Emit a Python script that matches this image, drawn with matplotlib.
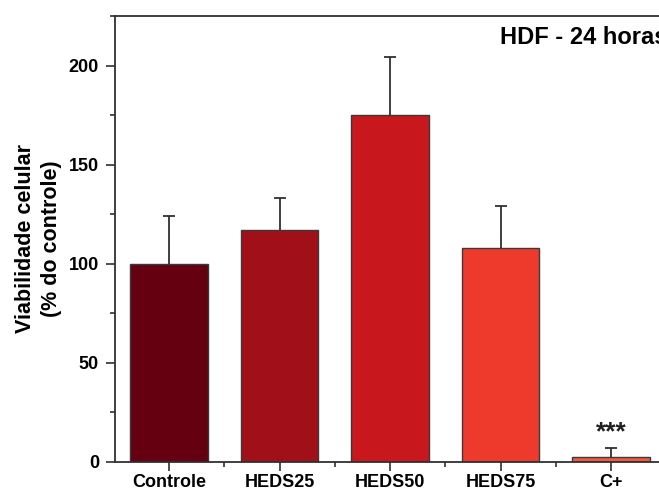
import matplotlib
matplotlib.use("Agg")
import matplotlib.pyplot as plt
from matplotlib.ticker import MultipleLocator, FixedLocator

plt.rcParams['font.family'] = ['Liberation Sans', 'DejaVu Sans']
plt.rcParams['font.weight'] = 'bold'

categories = ["Controle", "HEDS25", "HEDS50", "HEDS75", "C+"]
viability = [100.0, 117.0, 175.0, 108.0, 2.7]
sem_upper = [24.2, 16.2, 29.4, 21.1, 4.5]
bar_colors = ["#640010", "#A11018", "#C8171D", "#EE3A2D", "#F05A40"]
significance = ["", "", "", "", "***"]

fig = plt.figure(figsize=(6.59, 4.92), dpi=100)
ax = fig.add_axes([0.1745, 0.061, 0.8255, 0.9065])

x = list(range(len(categories)))
ax.bar(x, viability, width=0.705, color=bar_colors, edgecolor="#3a3a3a",
       linewidth=1.0, zorder=2)
eb = ax.errorbar(x, viability, yerr=[[0] * len(x), sem_upper], fmt="none",
                 ecolor="#303030", elinewidth=1.3, capsize=4, capthick=1.3,
                 zorder=3)
# only the upper whisker gets a cap
eb[1][0].set_visible(False)

for xi, v, e, s in zip(x, viability, sem_upper, significance):
    if s:
        ax.text(xi, v + e + 8.0, s, ha="center", va="center", fontsize=19,
                fontweight="bold", color="#202020")

ax.set_xlim(-0.489, 4.434)
ax.set_ylim(0, 225)
ax.set_xticks(x)
ax.set_xticklabels(categories, fontsize=13, fontweight="bold")
ax.xaxis.set_minor_locator(FixedLocator([i + 0.5 for i in range(-1, len(x))]))
ax.yaxis.set_major_locator(MultipleLocator(50))
ax.yaxis.set_minor_locator(MultipleLocator(25))
for lbl in ax.get_yticklabels():
    lbl.set_fontsize(13)
    lbl.set_fontweight("bold")

ax.tick_params(axis="both", which="major", direction="out", length=6.5,
               width=1.2, color="#303030")
ax.tick_params(axis="both", which="minor", direction="out", length=3.5,
               width=1.2, color="#303030")
ax.tick_params(axis="y", which="major", pad=5)
ax.tick_params(axis="x", which="major", pad=2.5)

for side in ["left", "bottom", "top"]:
    ax.spines[side].set_linewidth(1.3)
    ax.spines[side].set_color("#303030")
ax.spines["right"].set_visible(False)

ax.set_ylabel("Viabilidade celular\n(% do controle)", fontsize=15.5,
              fontweight="bold", linespacing=1.3, labelpad=5)

fig.text(500 / 659, 1 - 38 / 492, "HDF - 24 horas", fontsize=17,
         fontweight="bold", ha="left", va="center")

fig.savefig("out.png", dpi=100)
